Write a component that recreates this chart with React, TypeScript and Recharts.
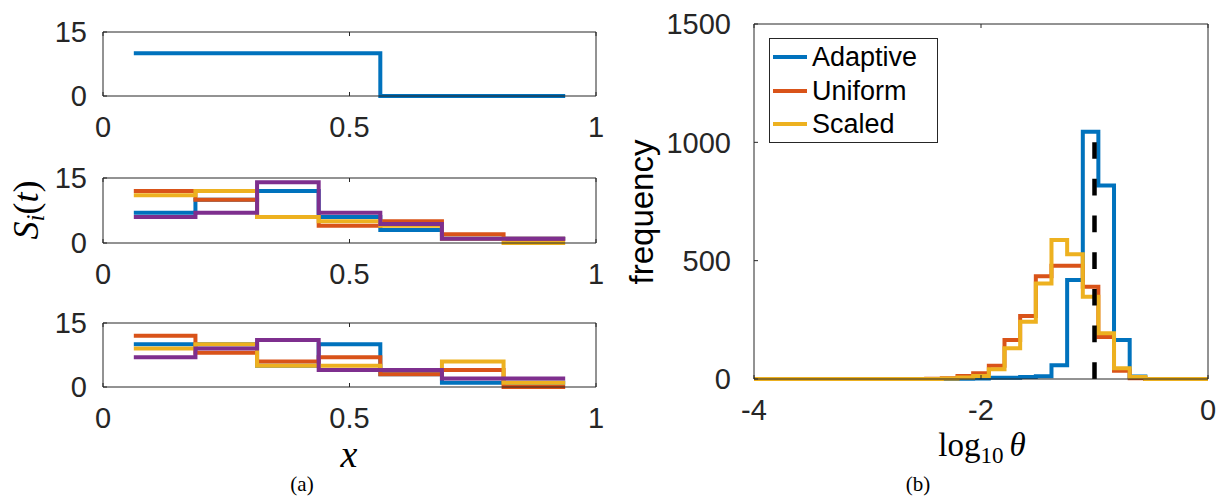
import React from 'react';
import { LineChart, Line, XAxis, YAxis, ReferenceLine, Legend } from 'recharts';

// ---------- data ----------
const xEdges = [0.0625, 0.1875, 0.3125, 0.4375, 0.5625, 0.6875, 0.8125, 0.9375];
const xTicks = [0, 0.5, 1];
const sTicks = [0, 15];

const topBlue = [10, 10, 10, 10, 0, 0, 0];

const midBlue = [7, 10, 12, 6, 3, 1, 1];
const midOrange = [12, 10, 6, 4, 5, 2, 1];
const midYellow = [11, 12, 6, 5, 4, 1, 0];
const midPurple = [6, 7, 14, 7, 4.4, 1, 1];

const botBlue = [10, 10, 5, 10, 3, 1, 1];
const botOrange = [12, 8, 6, 7, 3, 4, 0];
const botYellow = [9, 10, 5, 5, 4, 6, 1];
const botPurple = [7, 9, 11, 4, 4, 2, 2];

const thetaEdges = [
  -4, -3.862, -3.724, -3.586, -3.448, -3.31, -3.172, -3.034, -2.897, -2.759,
  -2.621, -2.483, -2.345, -2.207, -2.069, -1.931, -1.793, -1.655, -1.517, -1.379,
  -1.241, -1.103, -0.966, -0.828, -0.69, -0.552, -0.414, -0.276, -0.138, 0,
];
const adaptiveFreq = [
  0, 0, 0, 0, 0, 0, 0, 0, 0, 0, 0, 0, 0, 1, 2, 5, 5, 8, 12, 58, 418, 1045, 818, 165, 11, 0, 0, 0, 0,
];
const uniformFreq = [
  0, 0, 0, 0, 0, 0, 0, 0, 0, 0, 0, 1, 3, 13, 24, 56, 165, 266, 434, 478, 478, 390, 177, 35, 3, 0, 0, 0, 0,
];
const scaledFreq = [
  0, 0, 0, 0, 0, 0, 0, 0, 0, 0, 0, 0, 2, 6, 13, 41, 130, 242, 404, 587, 527, 348, 193, 45, 8, 0, 0, 0, 0,
];
const thetaTicks = [-4, -2, 0];
const freqTicks = [0, 500, 1000, 1500];
const trueTheta = -1;
const trueThetaHeight = 1000;

const legendNames = ['Adaptive', 'Uniform', 'Scaled'];

// ---------- styles ----------
const BLUE = '#0072BD';
const ORANGE = '#D95319';
const YELLOW = '#EDB120';
const PURPLE = '#7E2F8E';
const AXIS = '#262626';
const SANS = '"Liberation Sans", Arial, Helvetica, sans-serif';
const SERIF = '"Liberation Serif", "DejaVu Serif", serif';
const LW = 4;

function stepRows(edges: number[], series: Record<string, number[]>) {
  return edges.map((x, i) => {
    const row: Record<string, number> = { x };
    Object.keys(series).forEach((k) => {
      const v = series[k];
      row[k] = v[Math.min(i, v.length - 1)];
    });
    return row;
  });
}

const tickStyle = { fill: AXIS, fontSize: 29, fontFamily: SANS };

type PanelProps = {
  top: number;
  topAxisH: number;
  plotH: number;
  rows: Record<string, number>[];
  series: { key: string; color: string }[];
};

function SmallPanel({ top, topAxisH, plotH, rows, series }: PanelProps) {
  const W = 640;
  const LEFT_W = 103;
  const RIGHT_W = 44;
  const BOTTOM_H = 50;
  return (
    <div style={{ position: 'absolute', left: 0, top }}>
      <LineChart
        width={W}
        height={topAxisH + plotH + BOTTOM_H}
        data={rows}
        margin={{ top: 0, right: 0, bottom: 0, left: 0 }}
      >
        <XAxis
          xAxisId="b"
          dataKey="x"
          type="number"
          domain={[0, 1]}
          ticks={xTicks}
          orientation="bottom"
          height={BOTTOM_H}
          tickSize={-4}
          tickMargin={24}
          stroke={AXIS}
          tick={tickStyle}
          interval={0}
        />
        <XAxis
          xAxisId="t"
          dataKey="x"
          type="number"
          domain={[0, 1]}
          ticks={xTicks}
          orientation="top"
          height={topAxisH}
          tickSize={-4}
          tickFormatter={() => ''}
          stroke={AXIS}
          interval={0}
        />
        <YAxis
          yAxisId="l"
          type="number"
          domain={[0, 15]}
          ticks={sTicks}
          width={LEFT_W}
          tickSize={-4}
          tickMargin={20}
          stroke={AXIS}
          tick={tickStyle}
          interval={0}
        />
        <YAxis
          yAxisId="r"
          orientation="right"
          type="number"
          domain={[0, 15]}
          ticks={sTicks}
          width={RIGHT_W}
          tickSize={-4}
          tickFormatter={() => ''}
          stroke={AXIS}
          interval={0}
        />
        {series.map((s) => (
          <Line
            key={s.key}
            xAxisId="b"
            yAxisId="l"
            type="stepAfter"
            dataKey={s.key}
            stroke={s.color}
            strokeWidth={LW}
            dot={false}
            activeDot={false}
            isAnimationActive={false}
          />
        ))}
      </LineChart>
    </div>
  );
}

const topRows = stepRows(xEdges, { a: topBlue });
const midRows = stepRows(xEdges, { a: midBlue, b: midOrange, c: midYellow, d: midPurple });
const botRows = stepRows(xEdges, { a: botBlue, b: botOrange, c: botYellow, d: botPurple });
const histRows = stepRows(thetaEdges, { Adaptive: adaptiveFreq, Uniform: uniformFreq, Scaled: scaledFreq });

const fourSeries = [
  { key: 'a', color: BLUE },
  { key: 'b', color: ORANGE },
  { key: 'c', color: YELLOW },
  { key: 'd', color: PURPLE },
];

const legendColors = [BLUE, ORANGE, YELLOW];

function LegendBox() {
  return (
    <div
      style={{
        position: 'relative',
        width: 169,
        height: 105,
        border: `1px solid ${AXIS}`,
        background: '#fff',
        boxSizing: 'border-box',
        fontFamily: SANS,
        fontSize: 27,
        color: '#000',
      }}
    >
      {legendNames.map((n, i) => (
        <div
          key={n}
          style={{
            position: 'absolute',
            left: 3,
            top: 18 + i * 33.5 - 17,
            height: 34,
            display: 'flex',
            alignItems: 'center',
            whiteSpace: 'nowrap',
          }}
        >
          <span style={{ display: 'inline-block', width: 34, height: 4, background: legendColors[i], marginRight: 5 }} />
          <span style={{ lineHeight: '34px' }}>{n}</span>
        </div>
      ))}
    </div>
  );
}

function HistPanel() {
  const W = 580;
  const H = 440;
  return (
    <div style={{ position: 'absolute', left: 640, top: 0 }}>
      <LineChart width={W} height={H} data={histRows} margin={{ top: 0, right: 0, bottom: 0, left: 0 }}>
        <XAxis
          xAxisId="b"
          dataKey="x"
          type="number"
          domain={[-4, 0]}
          ticks={thetaTicks}
          orientation="bottom"
          height={61}
          tickSize={-4}
          tickMargin={24}
          stroke={AXIS}
          tick={tickStyle}
          interval={0}
        />
        <XAxis
          xAxisId="t"
          dataKey="x"
          type="number"
          domain={[-4, 0]}
          ticks={thetaTicks}
          orientation="top"
          height={24}
          tickSize={-4}
          tickFormatter={() => ''}
          stroke={AXIS}
          interval={0}
        />
        <YAxis
          yAxisId="l"
          type="number"
          domain={[0, 1500]}
          ticks={freqTicks}
          width={114}
          tickSize={-4}
          tickMargin={27}
          stroke={AXIS}
          tick={tickStyle}
          interval={0}
        />
        <YAxis
          yAxisId="r"
          orientation="right"
          type="number"
          domain={[0, 1500]}
          ticks={freqTicks}
          width={12}
          tickSize={-4}
          tickFormatter={() => ''}
          stroke={AXIS}
          interval={0}
        />
        {legendNames.map((n, i) => (
          <Line
            key={n}
            xAxisId="b"
            yAxisId="l"
            type="stepAfter"
            dataKey={n}
            name={n}
            stroke={legendColors[i]}
            strokeWidth={LW}
            dot={false}
            activeDot={false}
            isAnimationActive={false}
          />
        ))}
        <ReferenceLine
          xAxisId="b"
          yAxisId="l"
          segment={[
            { x: trueTheta, y: 0 },
            { x: trueTheta, y: trueThetaHeight },
          ]}
          stroke="#000"
          strokeWidth={4.5}
          strokeDasharray="16.7 20"
        />
        <Legend
          layout="vertical"
          align="center"
          verticalAlign="middle"
          content={() => <LegendBox />}
          wrapperStyle={{ left: 129, top: 38, width: 169, height: 105 }}
        />
      </LineChart>
    </div>
  );
}

const labelBase: React.CSSProperties = {
  position: 'absolute',
  whiteSpace: 'nowrap',
  color: '#000',
  lineHeight: 1,
};

export default function App() {
  return (
    <div style={{ position: 'fixed', left: 0, top: 0, width: 1220, height: 497, background: '#fff', overflow: 'hidden' }}>
      <SmallPanel top={0} topAxisH={32} plotH={64} rows={topRows} series={[{ key: 'a', color: BLUE }]} />
      <SmallPanel top={140} topAxisH={38} plotH={65} rows={midRows} series={fourSeries} />
      <SmallPanel top={285} topAxisH={38} plotH={64} rows={botRows} series={fourSeries} />
      <HistPanel />

      <div
        style={{
          ...labelBase,
          left: 28,
          top: 210,
          transform: 'translate(-50%, -50%) rotate(-90deg)',
          fontFamily: SERIF,
          fontSize: 36,
        }}
      >
        <i>S</i>
        <sub style={{ fontSize: '0.7em', fontStyle: 'italic', verticalAlign: '-0.25em' }}>i</sub>(<i>t</i>)
      </div>
      <div style={{ ...labelBase, left: 349, top: 454, transform: 'translate(-50%, -50%)', fontFamily: SERIF, fontSize: 38, fontStyle: 'italic' }}>
        x
      </div>
      <div style={{ ...labelBase, left: 302, top: 484, transform: 'translate(-50%, -50%)', fontFamily: SERIF, fontSize: 21 }}>
        (a)
      </div>

      <div
        style={{
          ...labelBase,
          left: 641,
          top: 212,
          transform: 'translate(-50%, -50%) rotate(-90deg)',
          fontFamily: SANS,
          fontSize: 33,
        }}
      >
        frequency
      </div>
      <div style={{ ...labelBase, left: 982, top: 448, transform: 'translate(-50%, -50%)', fontFamily: SERIF, fontSize: 33 }}>
        log<sub style={{ fontSize: '0.7em', verticalAlign: '-0.3em' }}>10</sub>
        <i style={{ marginLeft: 6 }}>θ</i>
      </div>
      <div style={{ ...labelBase, left: 918, top: 484, transform: 'translate(-50%, -50%)', fontFamily: SERIF, fontSize: 21 }}>
        (b)
      </div>
    </div>
  );
}
